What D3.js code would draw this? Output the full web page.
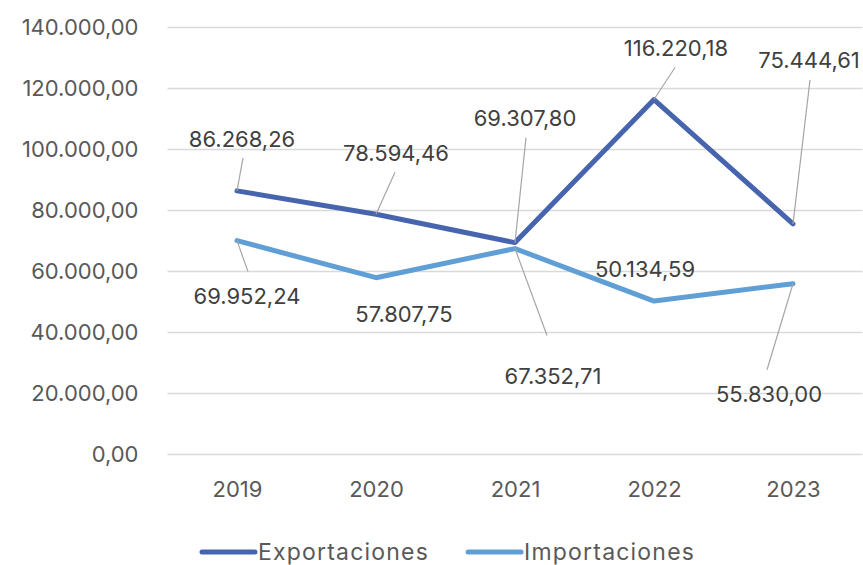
<!DOCTYPE html>
<html>
<head>
<meta charset="utf-8">
<script src="https://cdn.jsdelivr.net/npm/d3@7"></script>
<style>
  body { margin: 0; background: #fff; }
  text { font-family: Inter, "Open Sans", sans-serif; }
</style>
</head>
<body>
<div id="chart"></div>
<script>
// ---- data ----
var years = ["2019", "2020", "2021", "2022", "2023"];
var exportaciones = [86268.26, 78594.46, 69307.80, 116220.18, 75444.61];
var importaciones = [69952.24, 57807.75, 67352.71, 50134.59, 55830.00];
var seriesNames = ["Exportaciones", "Importaciones"];
var yTicks = [0, 20000, 40000, 60000, 80000, 100000, 120000, 140000];

// label placement (px from point) and leader start (px from label centre)
var expLabelOffsets = [[5, -52], [20, -61], [10, -125], [22, -52], [16, -164]];
var impLabelOffsets = [[10, 55], [28, 36], [38, 127], [-9, -32], [-24, 110]];
var expLeaders = [[1, 19], [-1, 19], [1, 20], [-1, 20], [1, 20]];
var impLeaders = [[1, -24], null, [-6, -40], null, [-2, -24]];

var colors = ["#4764ae", "#5f9fd6"];

var width = 863, height = 565;
var plotLeft = 167.5, plotRight = 862.5, plotTop = 27, plotBottom = 454;

var loc = d3.formatLocale({ decimal: ",", thousands: ".", grouping: [3], currency: ["", ""] });
var fmt = loc.format(",.2f");

var svg = d3.select("#chart").append("svg")
  .attr("width", width)
  .attr("height", height);

var x = d3.scalePoint().domain(years).range([plotLeft, plotRight]).padding(0.5);
var y = d3.scaleLinear().domain([0, 140000]).range([plotBottom, plotTop]);

// grid + y labels
var yAxis = svg.append("g")
  .attr("transform", "translate(" + plotLeft + ",0)")
  .call(d3.axisLeft(y).tickValues(yTicks).tickFormat(fmt).tickSize(-(plotRight - plotLeft)).tickPadding(29));
yAxis.select(".domain").remove();
yAxis.selectAll(".tick line").attr("stroke", "#d9d9d9").attr("stroke-width", 1.5);
yAxis.selectAll(".tick text")
  .attr("fill", "#595959")
  .style("font-size", "22px")
  .attr("dy", "0.35em");

// x labels
var xAxis = svg.append("g")
  .attr("transform", "translate(0," + plotBottom + ")")
  .call(d3.axisBottom(x).tickSize(0).tickPadding(27));
xAxis.select(".domain").remove();
xAxis.selectAll(".tick text")
  .attr("fill", "#595959")
  .style("font-size", "22px");

// lines
var line = d3.line()
  .x(function (d, i) { return x(years[i]); })
  .y(function (d) { return y(d); });

var series = [exportaciones, importaciones];
series.forEach(function (vals, s) {
  svg.append("path")
    .datum(vals)
    .attr("d", line)
    .attr("fill", "none")
    .attr("stroke", colors[s])
    .attr("stroke-width", 5)
    .attr("stroke-linejoin", "round")
    .attr("stroke-linecap", "round");
});

// data labels with leader lines
function drawLabels(vals, offsets, leaders) {
  var g = svg.append("g");
  vals.forEach(function (v, i) {
    var px = x(years[i]), py = y(v);
    var cx = px + offsets[i][0], cy = py + offsets[i][1];
    if (leaders[i]) {
      g.append("line")
        .attr("x1", cx + leaders[i][0])
        .attr("y1", cy + leaders[i][1])
        .attr("x2", px)
        .attr("y2", py)
        .attr("stroke", "#a6a6a6")
        .attr("stroke-width", 1.2);
    }
    g.append("text")
      .attr("x", cx)
      .attr("y", cy)
      .attr("text-anchor", "middle")
      .attr("dominant-baseline", "central")
      .attr("fill", "#404040")
      .style("font-size", "22px")
      .text(fmt(v));
  });
}
drawLabels(exportaciones, expLabelOffsets, expLeaders);
drawLabels(importaciones, impLabelOffsets, impLeaders);

// legend
var legend = svg.append("g").attr("transform", "translate(200,552)");
var lx = 0;
seriesNames.forEach(function (name, s) {
  legend.append("line")
    .attr("x1", lx + 2).attr("x2", lx + 55)
    .attr("y1", 0).attr("y2", 0)
    .attr("stroke", colors[s])
    .attr("stroke-width", 5)
    .attr("stroke-linecap", "round");
  var t = legend.append("text")
    .attr("x", lx + 58)
    .attr("y", 0)
    .attr("dominant-baseline", "central")
    .attr("fill", "#595959")
    .style("font-size", "23px")
    .style("letter-spacing", "1.2px")
    .text(name);
  lx += 58 + t.node().getComputedTextLength() + 37;
});
</script>
</body>
</html>
